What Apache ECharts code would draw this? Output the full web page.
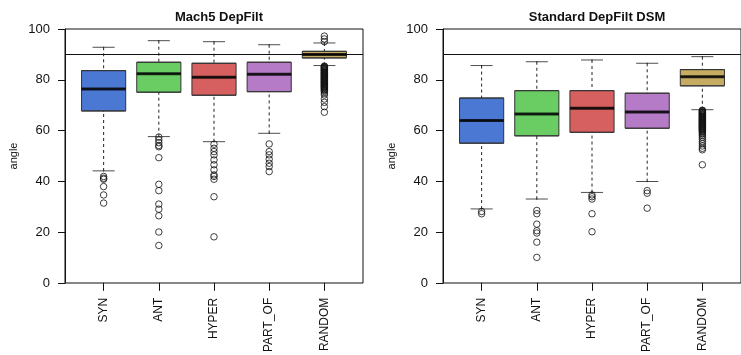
<!DOCTYPE html>
<html>
<head>
<meta charset="utf-8">
<script src="https://cdn.jsdelivr.net/npm/echarts@6/dist/echarts.min.js"></script>
<style>
  html, body { margin: 0; padding: 0; background: #fff; }
  #chart { width: 741px; height: 355px; }
</style>
</head>
<body>
<div id="chart"></div>
<script>
// categories and panel titles
const categories = ['SYN', 'ANT', 'HYPER', 'PART_OF', 'RANDOM'];
const panelTitles = ['Mach5 DepFilt', 'Standard DepFilt DSM'];
const yTicks = [0, 20, 40, 60, 80, 100];
const refLine = 90;

// [lower whisker, Q1, median, Q3, upper whisker]
const mach5Stats = [
  [44.1, 67.7, 76.4, 83.6, 92.8],
  [57.6, 75.1, 82.4, 86.9, 95.4],
  [55.6, 73.9, 81.0, 86.5, 95.0],
  [58.9, 75.3, 82.2, 86.9, 93.8],
  [85.6, 88.6, 90.0, 91.2, 94.5]
];
const mach5Outliers = [
  [41.9, 41.2, 40.8, 37.9, 34.6, 31.4],
  [57.4, 56.3, 55.2, 54.1, 53.6, 49.3, 38.8, 36.3, 31.0, 29.0, 26.4, 20.0, 14.7],
  [54.6, 53.0, 51.7, 50.4, 48.4, 46.5, 44.5, 42.5, 41.9, 40.8, 33.9, 18.1],
  [54.7, 51.7, 50.4, 48.7, 47.1, 45.8, 43.8],
  [97.2, 96.1, 95.0,
   85.4, 85.2, 85.0, 84.8, 84.6, 84.3, 84.1, 83.9, 83.7, 83.5, 83.2, 83.0, 82.8,
   82.6, 82.4, 82.1, 81.9, 81.7, 81.5, 81.2, 81.0, 80.8, 80.6, 80.3, 80.1, 79.9,
   79.7, 79.4, 79.2, 79.0, 78.8, 78.6, 78.3, 78.1, 77.9, 77.6, 77.4, 77.2, 76.9,
   76.7, 76.4, 76.1, 75.8, 75.4, 74.8, 74.0, 72.4, 71.1, 69.4, 67.2]
];

const standardStats = [
  [29.1, 55.0, 63.9, 72.8, 85.6],
  [33.0, 57.9, 66.5, 75.7, 87.1],
  [35.6, 59.3, 68.8, 75.7, 87.8],
  [39.9, 60.9, 67.3, 74.7, 86.5],
  [68.2, 77.6, 81.2, 84.0, 89.1]
];
const standardOutliers = [
  [28.1, 27.2],
  [28.5, 27.2, 23.1, 20.5, 19.6, 16.0, 10.0],
  [34.6, 33.9, 33.0, 27.2, 20.1],
  [36.3, 35.3, 29.4],
  [68.0, 67.8, 67.6, 67.3, 67.1, 66.9, 66.6, 66.4, 66.2, 66.0, 65.7, 65.5, 65.3,
   65.1, 64.8, 64.6, 64.4, 64.2, 63.9, 63.7, 63.5, 63.3, 63.0, 62.8, 62.6, 62.4,
   62.1, 61.9, 61.7, 61.5, 61.2, 61.0, 60.8, 60.6, 60.3, 60.1, 59.8, 59.5, 59.1,
   58.6, 58.0, 57.3, 56.5, 55.6, 54.8, 53.9, 53.0, 52.4, 46.5]
];

const boxColors = ['#4a78d2', '#6acd64', '#d65f5f', '#b57bc6', '#c6ab63'];
const FONT = 'Liberation Sans, Arial, sans-serif';

const chart = echarts.init(document.getElementById('chart'), null, { renderer: 'canvas' });

// panel geometry: frame grid, plus two identical narrower grids (boxes / whiskers),
// narrower to mimic R's 4% axis padding
const frameW = 298, frameTop = 29, frameBottom = 72;
const unit = frameW / 5.4;
const panels = [
  { left: 65, stats: mach5Stats, outliers: mach5Outliers },
  { left: 443, stats: standardStats, outliers: standardOutliers }
];

const grid = [], xAxis = [], yAxis = [], series = [], title = [];

panels.forEach((p, k) => {
  const fi = k * 3, bi = k * 3 + 1, wi = k * 3 + 2;
  grid.push({
    left: p.left, top: frameTop, width: frameW, bottom: frameBottom,
    show: true, borderColor: '#111', borderWidth: 1, backgroundColor: 'transparent'
  });
  grid.push({ left: p.left + unit * 0.2, top: frameTop, width: unit * 5, bottom: frameBottom });
  grid.push({ left: p.left + unit * 0.2, top: frameTop, width: unit * 5, bottom: frameBottom });

  title.push({
    text: panelTitles[k],
    left: p.left + frameW / 2, top: 6, textAlign: 'center',
    textStyle: { fontFamily: FONT, fontSize: 13, fontWeight: 'bold', color: '#111' }
  });

  xAxis.push({
    gridIndex: fi, type: 'value', min: 0, max: 1,
    axisLine: { show: false }, axisTick: { show: false },
    axisLabel: { show: false }, splitLine: { show: false }
  });
  xAxis.push({
    gridIndex: bi, type: 'category', data: categories,
    axisLine: { show: false },
    axisTick: { show: true, alignWithLabel: true, length: 8, lineStyle: { color: '#111' } },
    axisLabel: { rotate: 90, margin: 15, fontFamily: FONT, fontSize: 12, color: '#111' },
    splitLine: { show: false }
  });
  xAxis.push({ gridIndex: wi, type: 'category', data: categories, show: false });

  yAxis.push({
    gridIndex: fi, type: 'value', min: yTicks[0], max: yTicks[yTicks.length - 1], interval: 20,
    name: 'angle', nameLocation: 'middle', nameGap: 46,
    nameTextStyle: { fontFamily: FONT, fontSize: 11, color: '#111' },
    axisLine: { show: true, lineStyle: { color: '#111', width: 1 } },
    axisTick: { show: true, length: 7, lineStyle: { color: '#111' } },
    axisLabel: { margin: 15, fontFamily: FONT, fontSize: 13, color: '#111' },
    splitLine: { show: false }
  });
  yAxis.push({ gridIndex: bi, type: 'value', min: 0, max: 100, show: false });
  yAxis.push({ gridIndex: wi, type: 'value', min: 0, max: 100, show: false });

  // reference line at 90 across the frame
  series.push({
    type: 'line', xAxisIndex: fi, yAxisIndex: fi, data: [], silent: true,
    markLine: {
      symbol: 'none', silent: true, animation: false,
      label: { show: false },
      lineStyle: { color: '#111', width: 1, type: 'solid' },
      data: [{ yAxis: refLine }]
    }
  });
  // dashed whiskers
  series.push({
    type: 'boxplot', xAxisIndex: wi, yAxisIndex: wi, z: 2,
    boxWidth: [1, 1],
    itemStyle: { color: 'transparent', borderColor: '#222', borderWidth: 1, borderType: [3, 3] },
    data: p.stats
  });
  // whisker caps
  series.push({
    type: 'scatter', xAxisIndex: bi, yAxisIndex: bi, z: 3,
    symbol: 'rect', symbolSize: [unit * 0.4, 1],
    itemStyle: { color: '#222' },
    data: p.stats.flatMap((s, i) => [[i, s[0]], [i, s[4]]])
  });
  // boxes (Q1..Q3)
  series.push({
    type: 'boxplot', xAxisIndex: bi, yAxisIndex: bi, z: 4,
    boxWidth: [unit * 0.8, unit * 0.8],
    data: p.stats.map((s, i) => ({
      value: [s[1], s[1], s[2], s[3], s[3]],
      itemStyle: { color: boxColors[i], borderColor: '#333', borderWidth: 1 }
    }))
  });
  // medians
  series.push({
    type: 'scatter', xAxisIndex: bi, yAxisIndex: bi, z: 5,
    symbol: 'rect', symbolSize: [unit * 0.8, 3],
    itemStyle: { color: '#000' },
    data: p.stats.map((s, i) => [i, s[2]])
  });
  // outliers (open circles, overlapping strokes build up like R's pch=1)
  series.push({
    type: 'scatter', xAxisIndex: bi, yAxisIndex: bi, z: 6,
    symbol: 'circle', symbolSize: 6.5,
    itemStyle: { color: 'transparent', borderColor: '#111', borderWidth: 1 },
    data: p.outliers.flatMap((vals, i) => vals.map(v => [i, v]))
  });
});

chart.setOption({
  animation: false,
  backgroundColor: '#fff',
  textStyle: { fontFamily: FONT },
  title: title,
  grid: grid,
  xAxis: xAxis,
  yAxis: yAxis,
  series: series
});
</script>
</body>
</html>
